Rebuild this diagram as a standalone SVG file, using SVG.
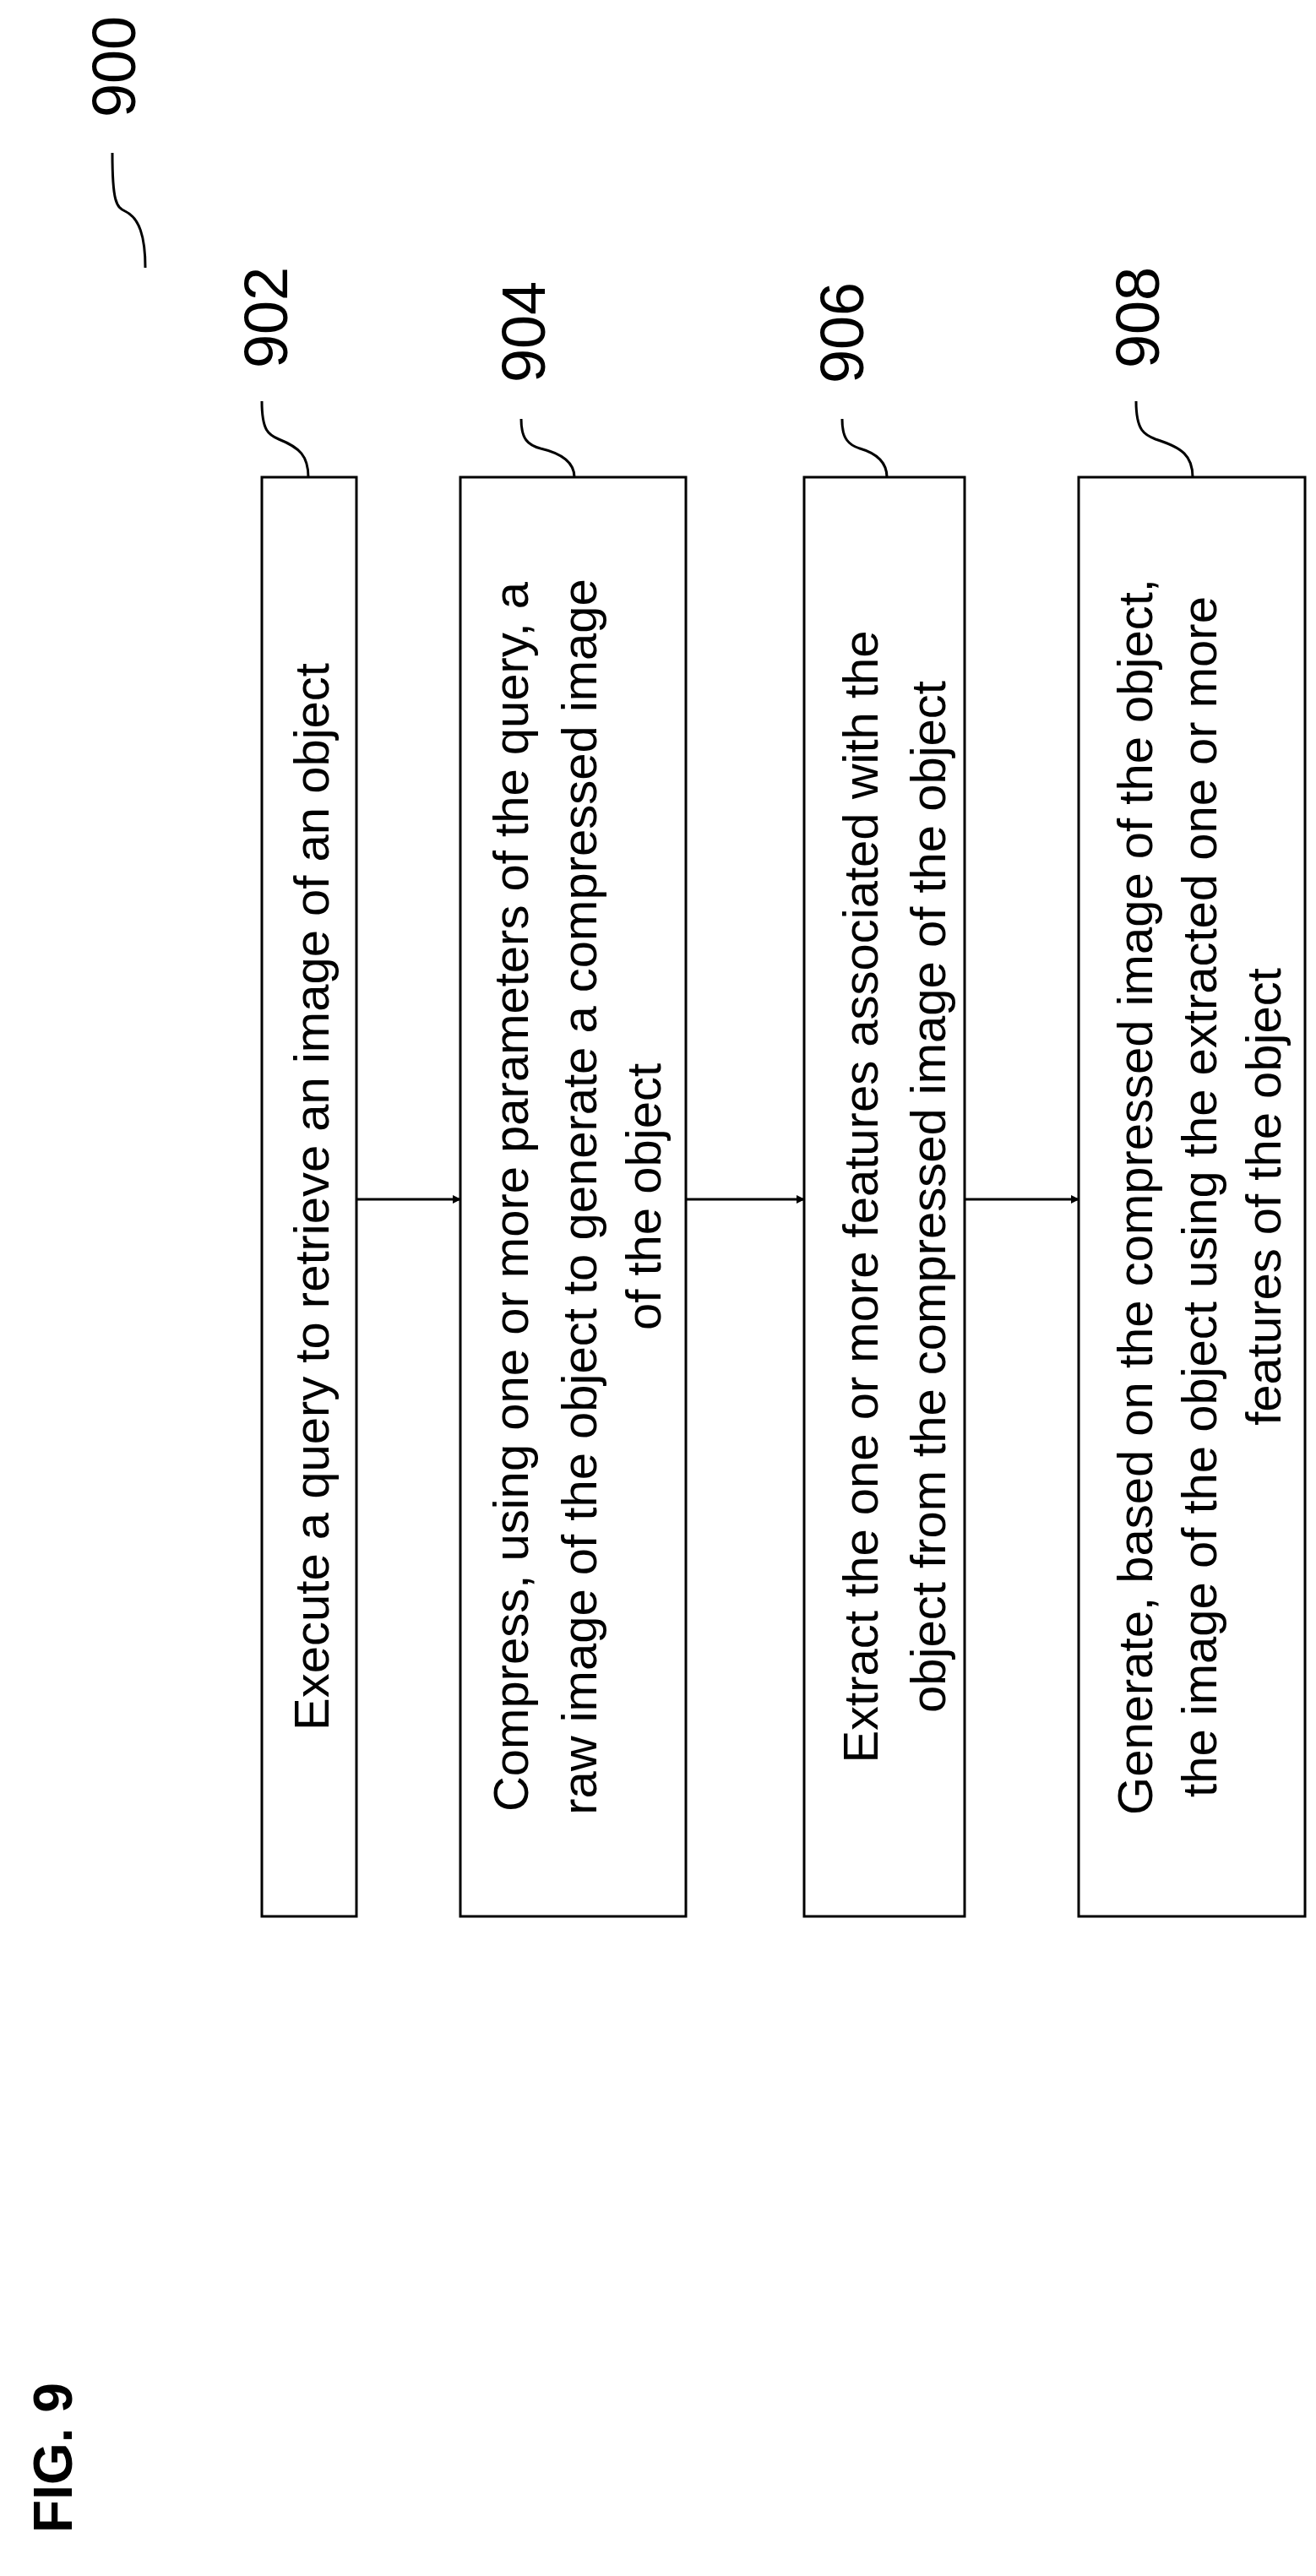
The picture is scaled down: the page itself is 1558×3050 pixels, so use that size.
<svg xmlns="http://www.w3.org/2000/svg" width="1558" height="3050" viewBox="0 0 1558 3050">
<style>
.box{fill:#fff;stroke:#000;stroke-width:3}
.t{font-family:"Liberation Sans",Arial,sans-serif;font-size:58px;text-anchor:middle}
.n{font-family:"Liberation Sans",Arial,sans-serif;font-size:72px;text-anchor:middle}
.ld{fill:none;stroke:#000;stroke-width:3}
.c{stroke:#000;stroke-width:3;marker-end:url(#a)}
</style>
<defs><marker id="a" markerWidth="10" markerHeight="10" refX="9" refY="5" orient="auto" markerUnits="userSpaceOnUse" viewBox="0 0 10 10"><path d="M0,0 L10,5 L0,10 z"/></marker></defs>
<rect width="1558" height="3050" fill="#fff"/>
<text transform="translate(85,2910) rotate(-90)" style="font-family:'Liberation Sans',Arial,sans-serif;font-size:64px;font-weight:bold;text-anchor:middle">FIG. 9</text>
<g id="ref900"><text class="n" transform="translate(160,79) rotate(-90)">900</text><path class="ld" d="M133,181 C133,240 138,245 148,250 C165,258 172,280 172,317"/></g>
<g id="n902"><rect class="box" x="310" y="565" width="112" height="1704"/>
<text class="t" transform="translate(389,1417) rotate(-90)">Execute a query to retrieve an image of an object</text>
<text class="n" transform="translate(340,376) rotate(-90)">902</text><path class="ld" d="M310,475 C310,510 318,515 330,520 C355,530 365,540 365,565"/></g>
<g id="n904"><rect class="box" x="545" y="565" width="267" height="1704"/>
<text class="t" transform="translate(625,1417) rotate(-90)">Compress, using one or more parameters of the query, a</text>
<text class="t" transform="translate(706,1417) rotate(-90)">raw image of the object to generate a compressed image</text>
<text class="t" transform="translate(782,1417) rotate(-90)">of the object</text>
<text class="n" transform="translate(645,393) rotate(-90)">904</text><path class="ld" d="M617,496 C617,520 625,527 640,531 C670,538 680,550 680,565"/></g>
<g id="n906"><rect class="box" x="952" y="565" width="190" height="1704"/>
<text class="t" transform="translate(1039,1417) rotate(-90)">Extract the one or more features associated with the</text>
<text class="t" transform="translate(1119,1417) rotate(-90)">object from the compressed image of the object</text>
<text class="n" transform="translate(1022,394) rotate(-90)">906</text><path class="ld" d="M997,496 C997,520 1005,527 1018,531 C1042,538 1050,550 1050,565"/></g>
<g id="n908"><rect class="box" x="1277" y="565" width="268" height="1704"/>
<text class="t" transform="translate(1364,1417) rotate(-90)">Generate, based on the compressed image of the object,</text>
<text class="t" transform="translate(1440,1417) rotate(-90)">the image of the object using the extracted one or more</text>
<text class="t" transform="translate(1516,1417) rotate(-90)">features of the object</text>
<text class="n" transform="translate(1372,376) rotate(-90)">908</text><path class="ld" d="M1345,475 C1345,510 1355,515 1368,520 C1400,530 1412,540 1412,565"/></g>
<g id="connectors">
<line class="c" x1="422" y1="1420" x2="545" y2="1420"/>
<line class="c" x1="812" y1="1420" x2="952" y2="1420"/>
<line class="c" x1="1142" y1="1420" x2="1277" y2="1420"/>
</g>
</svg>
